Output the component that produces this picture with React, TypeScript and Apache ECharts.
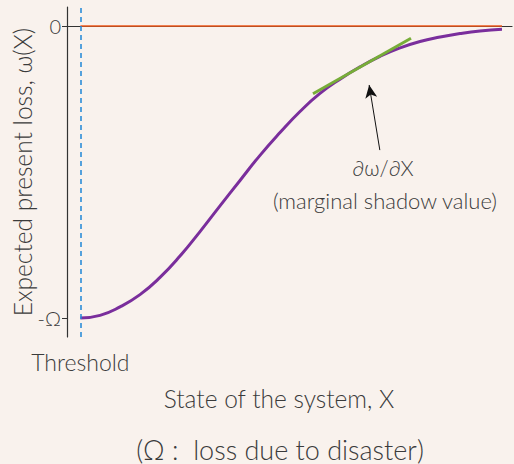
import React, { useEffect, useRef } from "react";
import * as echarts from "echarts";

// Curve: expected present loss omega(X) vs state X (x: 0..100, y: -1 = -Omega, 0 = 0)
const curveX = [3.0, 7.42, 11.91, 16.4, 20.9, 25.39, 29.89, 34.38, 38.88, 43.37, 47.87, 52.36, 56.85, 61.35, 65.84, 70.34, 74.83, 79.33, 83.82, 88.31, 92.81, 97.75];
const curveY = [-1.0, -0.991, -0.962, -0.92, -0.861, -0.788, -0.704, -0.616, -0.529, -0.443, -0.365, -0.293, -0.231, -0.182, -0.14, -0.104, -0.075, -0.053, -0.038, -0.026, -0.017, -0.011];
const tangentX = [55.28, 77.3];
const tangentY = [-0.232, -0.042];
const zeroLineX = [3.0, 97.75];
const thresholdX = 3.0;
const arrowFrom = [70.3, -0.425];
const arrowTo = [67.9, -0.202];
const yTickValues = [0, -1];
const yTickLabels = ["0", "-Ω"];

const FONT = "Lato, 'DejaVu Sans', sans-serif";
const TXT = "#3b3b3b";
const W = 300;

export default function App() {
  const ref = useRef<HTMLDivElement>(null);
  useEffect(() => {
    const chart = echarts.init(ref.current!, null, { renderer: "svg" });
    const curve = curveX.map((x, i) => [x, curveY[i]]);
    const tangent = tangentX.map((x, i) => [x, tangentY[i]]);
    chart.setOption({
      animation: false,
      backgroundColor: "#f9f2ed",
      grid: { left: 67, right: 2, top: 7, bottom: 127, outerBoundsMode: "none", containLabel: false },
      xAxis: {
        type: "value",
        min: 0,
        max: 100,
        splitLine: { show: false },
        axisLine: { show: true, lineStyle: { color: "#333", width: 1.2 } },
        axisTick: { show: false },
        axisLabel: {
          customValues: [thresholdX],
          formatter: () => "Threshold",
          margin: 13,
          fontSize: 23,
          fontWeight: W,
          fontFamily: FONT,
          color: TXT,
        },
      },
      yAxis: {
        type: "value",
        min: -1.065,
        max: 0.065,
        splitLine: { show: false },
        axisLine: { show: true, lineStyle: { color: "#333", width: 1.2 } },
        axisTick: { show: true, customValues: yTickValues, length: 5, lineStyle: { color: "#333" } },
        axisLabel: {
          customValues: yTickValues,
          formatter: (v: number) => yTickLabels[yTickValues.indexOf(Math.round(v))] ?? "",
          margin: 6,
          fontSize: 20,
          fontWeight: W,
          fontFamily: FONT,
          color: TXT,
        },
        name: "Expected present loss, ω(X)",
        nameLocation: "middle",
        nameRotate: 90,
        nameGap: 32,
        nameMoveOverlap: false,
        nameTextStyle: { fontSize: 24.5, fontWeight: W, fontFamily: FONT, color: TXT },
      },
      series: [
        {
          type: "line",
          data: zeroLineX.map((x) => [x, 0]),
          symbol: "none",
          lineStyle: { color: "#ee5a1c", width: 1.3 },
          markLine: {
            silent: true,
            symbol: "none",
            label: { show: false },
            lineStyle: { color: "#1f87d6", width: 1.5, type: [5, 4] },
            data: [{ xAxis: thresholdX }],
          },
        },
        {
          type: "line",
          data: curve,
          symbol: "none",
          smooth: 0.5,
          lineStyle: { color: "#7a2e9c", width: 3 },
          markLine: {
            silent: true,
            symbol: ["none", "arrow"],
            symbolSize: [9, 13],
            label: { show: false },
            lineStyle: { color: "#111", width: 1, type: "solid" },
            data: [[{ coord: arrowFrom }, { coord: arrowTo }]],
          },
        },
        {
          type: "line",
          data: tangent,
          symbol: "none",
          lineStyle: { color: "#77ad38", width: 3 },
        },
      ],
      graphic: [
        {
          type: "text",
          x: 383,
          y: 167,
          style: { text: "∂ω/∂X", fontSize: 21, fontWeight: W, fontFamily: FONT, fill: TXT, align: "center", verticalAlign: "middle" },
        },
        {
          type: "text",
          x: 385,
          y: 200,
          style: { text: "(marginal shadow value)", fontSize: 22, fontWeight: W, fontFamily: FONT, fill: TXT, align: "center", verticalAlign: "middle" },
        },
        {
          type: "text",
          x: 279,
          y: 398,
          style: { text: "State of the system, X", fontSize: 24.5, fontWeight: W, fontFamily: FONT, fill: TXT, align: "center", verticalAlign: "middle" },
        },
        {
          type: "text",
          x: 280,
          y: 449,
          style: { text: "(Ω :  loss due to disaster)", fontSize: 27, fontWeight: W, fontFamily: FONT, fill: TXT, align: "center", verticalAlign: "middle" },
        },
      ],
    });
    return () => chart.dispose();
  }, []);
  return <div ref={ref} style={{ position: "absolute", left: 0, top: 0, width: 514, height: 464 }} />;
}
